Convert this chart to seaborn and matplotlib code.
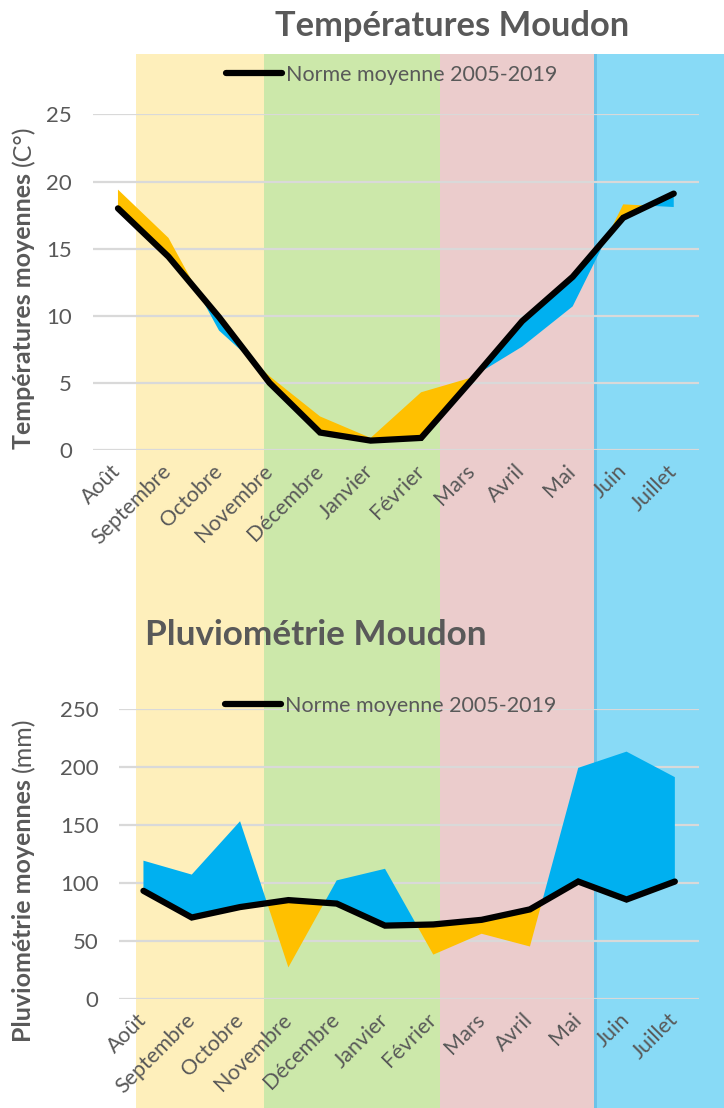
import numpy as np
import pandas as pd
import matplotlib
matplotlib.use("Agg")
import matplotlib.pyplot as plt
import matplotlib.transforms as mtransforms
import seaborn as sns
from matplotlib.patches import Rectangle
from matplotlib.lines import Line2D

# ---------------- data ----------------
months = ["Août", "Septembre", "Octobre", "Novembre", "Décembre", "Janvier",
          "Février", "Mars", "Avril", "Mai", "Juin", "Juillet"]
temp_norme = [18.0, 14.4, 9.9, 5.0, 1.3, 0.7, 0.9, 5.2, 9.6, 12.9, 17.3, 19.1]
temp_annee = [19.4, 15.8, 8.9, 5.5, 2.5, 0.9, 4.3, 5.4, 7.7, 10.7, 18.3, 18.1]
pluie_norme = [93, 70, 79, 85, 82, 63, 64, 68, 77, 101, 85.5, 101]
pluie_annee = [119, 107, 153, 27, 102, 112, 38, 56, 45, 199, 213, 191]
temp_ticks = [0, 5, 10, 15, 20, 25]
pluie_ticks = [0, 50, 100, 150, 200, 250]
legend_label = "Norme moyenne 2005-2019"

# ---------------- style ----------------
sns.set_style("white")
plt.rcParams["font.family"] = ["Lato", "DejaVu Sans"]
GRAY = "#595959"
ORANGE = "#FFC000"
BLUE = "#00B0F0"

W, H = 724, 1108
fig = plt.figure(figsize=(W / 100, H / 100), dpi=100)


def fx(px):
    return px / W


def fy(py):
    return 1 - py / H


# seasonal background bands (figure-level)
bands = [(136, 264, "#FEEFBB"), (264, 440, "#CCE8AA"), (440, 594, "#EBCCCC"), (594, 724, "#88DAF6")]
for x0, x1, c in bands:
    fig.patches.append(Rectangle((fx(x0), 0), fx(x1 - x0), fy(54), transform=fig.transFigure,
                                 facecolor=c, edgecolor="none", zorder=-10))
fig.patches.append(Rectangle((fx(594), 0), fx(2.5), fy(54), transform=fig.transFigure,
                             facecolor="#6CC3E8", edgecolor="none", zorder=-9))

df_t = pd.DataFrame({"x": np.arange(len(months)), "mois": months,
                     "norme": temp_norme, "annee": temp_annee})
df_p = pd.DataFrame({"x": np.arange(len(months)), "mois": months,
                     "norme": pluie_norme, "annee": pluie_annee})

label_shift = mtransforms.ScaledTranslation(6 / 100, -3 / 100, fig.dpi_scale_trans)


def make_axes(rect_px, df, ylim, yticks, hi_color, lo_color, leg_xy):
    l, t, r, b = rect_px
    ax = fig.add_axes([fx(l), fy(b), fx(r - l), (b - t) / H])
    ax.patch.set_alpha(0)
    x = df["x"].to_numpy()
    n = df["norme"].to_numpy(dtype=float)
    a = df["annee"].to_numpy(dtype=float)
    ax.fill_between(x, n, a, where=a >= n, interpolate=True, color=hi_color, lw=0, zorder=2)
    ax.fill_between(x, n, a, where=a <= n, interpolate=True, color=lo_color, lw=0, zorder=2)
    sns.lineplot(data=df, x="x", y="norme", ax=ax, color="black", lw=4.5,
                 solid_capstyle="round", solid_joinstyle="miter", zorder=3, legend=False)
    ax.set_xlim(-0.5, len(months) - 0.5)
    ax.set_ylim(*ylim)
    ax.set_yticks(yticks)
    ax.set_xticks(x)
    ax.set_xticklabels(df["mois"], rotation=45, ha="right", va="center",
                       rotation_mode="anchor", color=GRAY, fontsize=15.5)
    for lab in ax.get_xticklabels():
        lab.set_transform(lab.get_transform() + label_shift)
    ax.tick_params(axis="y", length=0, pad=15, labelsize=16, labelcolor=GRAY)
    ax.tick_params(axis="x", length=0, pad=13)
    ax.set_axisbelow(True)
    ax.grid(axis="y", color="#D9D9D9", lw=1.6)
    ax.grid(axis="x", visible=False)
    for s in ax.spines.values():
        s.set_visible(False)
    ax.set_xlabel("")
    ax.set_ylabel("")
    h = Line2D([], [], color="black", lw=4.5, solid_capstyle="round")
    lx, ly = leg_xy
    ax.legend([h], [legend_label], loc="center left", bbox_to_anchor=(fx(lx), fy(ly)),
              bbox_transform=fig.transFigure, frameon=False, borderpad=0, borderaxespad=0,
              handlelength=2.6, handletextpad=0.2, fontsize=15.5, labelcolor=GRAY)
    return ax


ax1 = make_axes((92.7, 114.4, 699, 450), df_t, (0, 25), temp_ticks, ORANGE, BLUE, (226, 75))
ax2 = make_axes((119.3, 708.7, 699, 998.7), df_p, (0, 250), pluie_ticks, BLUE, ORANGE, (225, 706))

# titles
fig.text(fx(452), fy(26), "Températures Moudon", ha="center", va="center",
         fontsize=24.8, fontweight="bold", color=GRAY)
fig.text(fx(145), fy(635), "Pluviométrie Moudon", ha="left", va="center",
         fontsize=25.3, fontweight="bold", color=GRAY)

# y labels: bold part + regular unit part
fig.canvas.draw()
rend = fig.canvas.get_renderer()


def ylabel(bold, regular, y_start):
    t1 = fig.text(fx(24), fy(y_start), bold, rotation=90, ha="center", va="bottom",
                  fontsize=18, fontweight="bold", color=GRAY)
    bb = t1.get_window_extent(rend)
    fig.text(fx(24), (bb.y1 + 7) / H, regular, rotation=90, ha="center", va="bottom",
             fontsize=18, color=GRAY)


ylabel("Températures moyennes", "(C°)", 449)
ylabel("Pluviométrie moyennes", "(mm)", 1042)

fig.savefig("out.png", dpi=100)
